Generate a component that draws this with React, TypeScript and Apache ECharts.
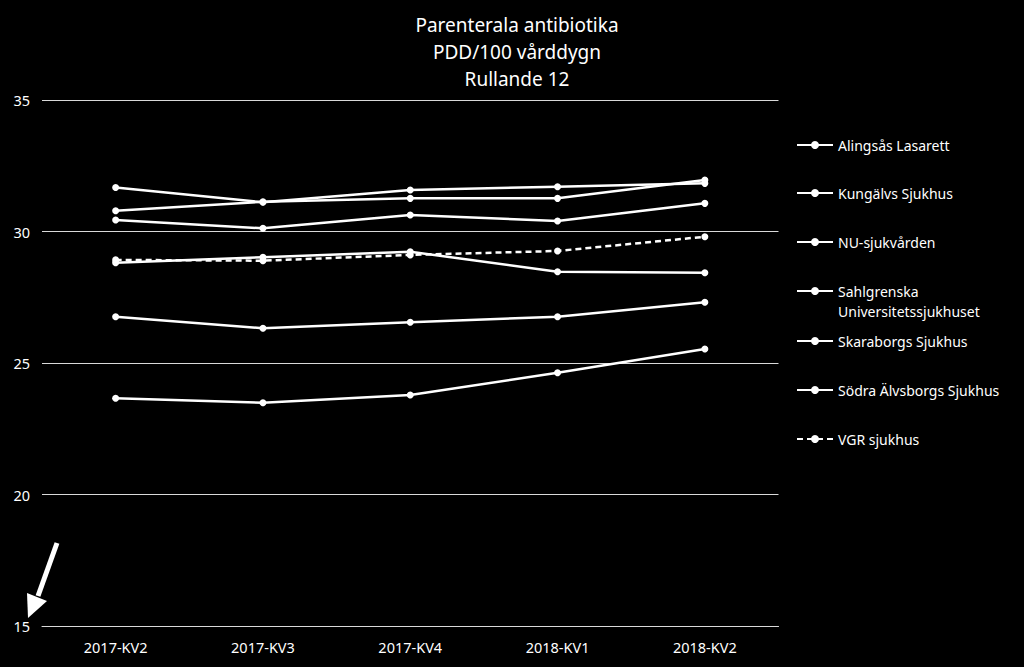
import React, { useEffect, useRef } from "react";
import * as echarts from "echarts";

const categories = ["2017-KV2", "2017-KV3", "2017-KV4", "2018-KV1", "2018-KV2"];
const alingsas = [31.67, 31.11, 31.58, 31.7, 31.83];
const kungalv = [30.79, 31.13, 31.26, 31.26, 31.96];
const nu = [30.44, 30.12, 30.63, 30.4, 31.07];
const sahlgrenska = [28.81, 29.02, 29.23, 28.47, 28.43];
const skaraborg = [26.76, 26.32, 26.55, 26.76, 27.31];
const sodraAlvsborg = [23.66, 23.49, 23.78, 24.63, 25.53];
const vgr = [28.92, 28.89, 29.11, 29.26, 29.8];

const seriesNames = [
  "Alingsås Lasarett",
  "Kungälvs Sjukhus",
  "NU-sjukvården",
  "Sahlgrenska\nUniversitetssjukhuset",
  "Skaraborgs Sjukhus",
  "Södra Älvsborgs Sjukhus",
  "VGR sjukhus",
];
const seriesData = [alingsas, kungalv, nu, sahlgrenska, skaraborg, sodraAlvsborg, vgr];
const legendTops = [130, 178, 227, 256, 326, 375, 424];

const FONT = "'Noto Sans', 'Open Sans', sans-serif";

export default function App() {
  const ref = useRef<HTMLDivElement>(null);
  useEffect(() => {
    document.body.style.margin = "0";
    document.body.style.background = "#000";
    const chart = echarts.init(ref.current!, null, { renderer: "svg" });
    const series = seriesNames.map((name, i) => ({
      name,
      type: "line",
      data: seriesData[i],
      symbol: "circle",
      symbolSize: 7,
      itemStyle: { color: "#fff" },
      lineStyle: { color: "#fff", width: 2.5, type: i === 6 ? [6, 4] : "solid" },
      z: i === 6 ? 3 : 2,
    }));
    const legends = seriesNames.map((name, i) => ({
      data: [name],
      left: 791,
      top: legendTops[i],
      orient: "vertical",
      itemWidth: 36,
      itemHeight: 10,
      itemGap: 4,
      formatter: (n: string) => (i === 3 ? " \n" + n : n),
      textStyle: {
        color: "#fff",
        fontFamily: FONT,
        fontSize: 14,
        lineHeight: 20,
      },
      selectedMode: false,
    }));
    chart.setOption({
      animation: false,
      backgroundColor: "#000",
      title: {
        text: "Parenterala antibiotika\nPDD/100 vårddygn\nRullande 12",
        left: 512,
        textAlign: "center",
        top: 6,
        textStyle: {
          color: "#fff",
          fontFamily: FONT,
          fontWeight: "normal",
          fontSize: 19,
          lineHeight: 27,
        },
      },
      legend: legends,
      grid: { left: 42, right: 245.5, top: 100, bottom: 41 },
      xAxis: {
        type: "category",
        data: categories,
        boundaryGap: true,
        axisLine: { lineStyle: { color: "#d9d9d9", width: 1 } },
        axisTick: { show: false },
        axisLabel: { color: "#fff", fontFamily: FONT, fontSize: 14.5, margin: 13 },
      },
      yAxis: {
        type: "value",
        min: 15,
        max: 35,
        interval: 5,
        axisLine: { show: false },
        axisTick: { show: false },
        axisLabel: { color: "#fff", fontFamily: FONT, fontSize: 14.5, margin: 12 },
        splitLine: { lineStyle: { color: "#d9d9d9", width: 1 } },
      },
      series,
      graphic: [
        {
          type: "line",
          shape: { x1: 57, y1: 543, x2: 38, y2: 596 },
          style: { stroke: "#fff", lineWidth: 5 },
        },
        {
          type: "polygon",
          shape: { points: [[28, 618], [27, 593], [47, 601]] },
          style: { fill: "#fff" },
        },
      ],
    });
    return () => chart.dispose();
  }, []);
  return <div ref={ref} style={{ width: 1024, height: 667 }} />;
}
